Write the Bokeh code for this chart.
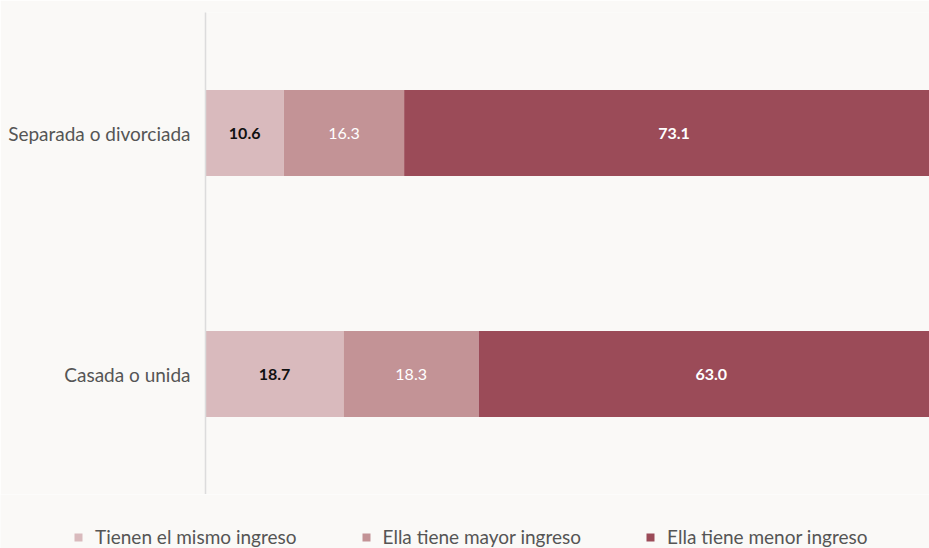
from bokeh.plotting import figure
from bokeh.layouts import column
from bokeh.models import ColumnDataSource, FactorRange, Range1d, Legend, LegendItem
from bokeh.core.properties import value
from bokeh.embed import file_html
from bokeh.resources import INLINE

categories = ["Casada o unida", "Separada o divorciada"]
series_names = ["Tienen el mismo ingreso", "Ella tiene mayor ingreso", "Ella tiene menor ingreso"]
mismo = [18.7, 10.6]
mayor = [18.3, 16.3]
menor = [63.0, 73.1]
colors = ["#d9babd", "#c39396", "#9b4b58"]
label_colors = ["#111111", "#ffffff", "#ffffff"]
label_styles = ["bold", "normal", "bold"]

FONT = "Lato"
BG = "#faf9f7"

keys = ["mismo", "mayor", "menor"]
source = ColumnDataSource(dict(cat=categories, mismo=mismo, mayor=mayor, menor=menor))

p = figure(width=929, height=494, output_backend="svg", toolbar_location=None,
           y_range=FactorRange(factors=categories, range_padding=0),
           x_range=Range1d(0, 98.05),
           min_border_left=205, min_border_right=0, min_border_top=12, min_border_bottom=0)
p.background_fill_color = BG
p.border_fill_color = BG
p.outline_line_color = None

p.hbar_stack(keys, y="cat", height=0.356, color=colors, line_color=None, source=source)

# value labels at segment centres
left = [0.0] * len(categories)
for vals, c, st in zip([mismo, mayor, menor], label_colors, label_styles):
    mids = [l + v / 2 for l, v in zip(left, vals)]
    txt = [f"{v:.1f}" for v in vals]
    ls = ColumnDataSource(dict(x=mids, y=categories, t=txt))
    p.text(x="x", y="y", text="t", source=ls, text_align="center", text_baseline="middle",
           text_color=c, text_font=value(FONT), text_font_size="16px", text_font_style=st)
    left = [l + v for l, v in zip(left, vals)]

p.xaxis.visible = False
p.xgrid.visible = False
p.ygrid.visible = False
p.yaxis.axis_line_color = "#dcdcdc"
p.yaxis.axis_line_width = 1.5
p.yaxis.major_tick_line_color = None
p.yaxis.minor_tick_line_color = None
p.yaxis.major_label_text_font = FONT
p.yaxis.major_label_text_font_size = "19px"
p.yaxis.major_label_text_color = "#555555"
p.yaxis.major_label_standoff = 9

# legend strip below the chart (bars pushed out of view, only the legend shows)
p2 = figure(width=929, height=54, output_backend="svg", toolbar_location=None,
            x_axis_location=None, y_axis_location=None,
            x_range=Range1d(-10, -5), y_range=FactorRange(factors=categories),
            min_border_left=0, min_border_right=0, min_border_top=0, min_border_bottom=0)
p2.frame_align = False
p2.background_fill_color = BG
p2.border_fill_color = BG
p2.outline_line_color = None
p2.xgrid.visible = False
p2.ygrid.visible = False
legend_renderers = p2.hbar_stack(keys, y="cat", height=0.356, color=colors, line_color=None, source=source)

items = [LegendItem(label=n, renderers=[r]) for n, r in zip(series_names, legend_renderers)]
legend = Legend(items=items, orientation="horizontal", location=(73, 0),
                glyph_width=10, glyph_height=10, label_standoff=12, spacing=64,
                padding=0, margin=0, border_line_color=None, background_fill_alpha=0,
                label_text_font=FONT, label_text_font_size="19px", label_text_color="#555555",
                label_height=20)
p2.add_layout(legend)

layout = column(p, p2, spacing=0)
open("out.html", "w").write(file_html(layout, INLINE))
